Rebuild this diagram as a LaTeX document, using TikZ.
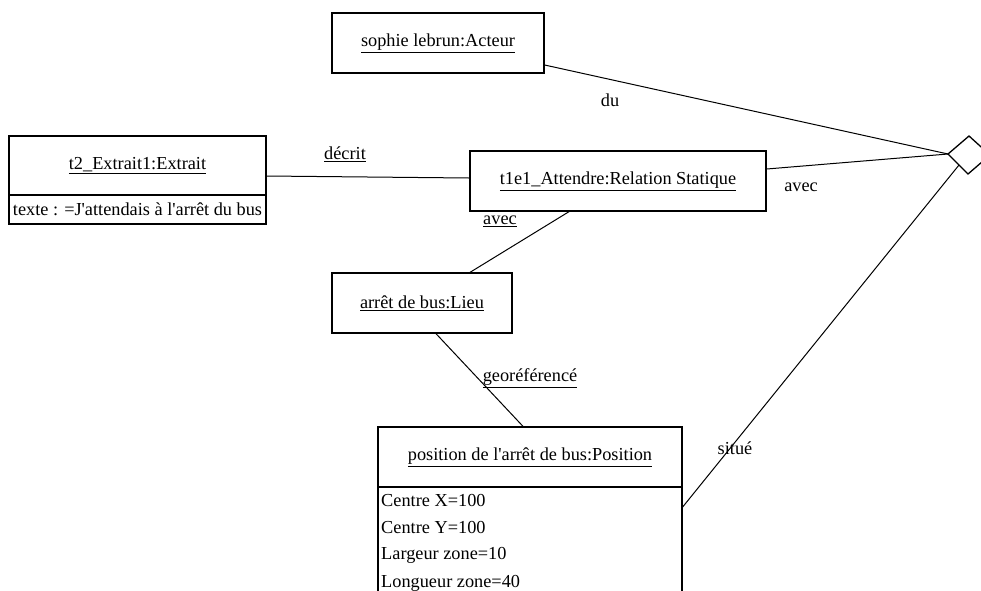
\documentclass[tikz,border=0pt]{standalone}
\usepackage{fontspec}
\setmainfont{Liberation Serif}
\usetikzlibrary{calc}
\begin{document}
\begin{tikzpicture}[x=1pt,y=-1pt,
  box/.style={draw,line width=1.3pt,rectangle,inner sep=0pt,font=\fontsize{18.3}{21}\selectfont},
  conn/.style={line width=1pt},
  lbl/.style={font=\fontsize{18.3}{21}\selectfont,inner sep=0pt},
  attr/.style={font=\fontsize{18.3}{21}\selectfont,inner sep=0pt,anchor=west}]
\useasboundingbox (0,0) rectangle (981,590);
\clip (0,0) rectangle (981,590);
\fill[white] (0,0) rectangle (981,590);
% boxes
\node[box,minimum width=212pt,minimum height=60pt] (sophie) at (438,43) {\underline{sophie lebrun:Acteur}};
\node[box,minimum width=257pt,minimum height=59pt] (t2h) at (137.5,165.5) {\underline{t2\_Extrait1:Extrait}};
\node[box,minimum width=257pt,minimum height=29pt] (t2a) at (137.5,209.5) {texte : =J\textquotesingle attendais à l\textquotesingle arrêt du bus};
\node[box,minimum width=296pt,minimum height=60pt] (t1e1) at (618,181) {\underline{t1e1\_Attendre:Relation Statique}};
\node[box,minimum width=180pt,minimum height=60pt] (arret) at (422,303) {\underline{arrêt de bus:Lieu}};
\node[box,minimum width=304pt,minimum height=60pt] (posh) at (530,457) {\underline{position de l\textquotesingle arrêt de bus:Position}};
\node[box,minimum width=304pt,minimum height=123pt] (posa) at (530,548.5) {};
\node[attr] (a1) at (381,500) {Centre X=100};
\node[attr] (a2) at (381,527.5) {Centre Y=100};
\node[attr] (a3) at (381,555) {Largeur zone=10};
\node[attr] (a4) at (381,583) {Longueur zone=40};
% diamond
\coordinate (dl) at (948,154);
\coordinate (dt) at (969,136);
\coordinate (dr) at (990,155);
\coordinate (db) at (968,174);
\draw[line width=1.3pt,fill=white] (dl) -- (dt) -- (dr) -- (db) -- cycle;
\coordinate (ds) at ($(dl)!0.55!(db)$);
% connectors
\draw[conn] ([yshift=-22pt]sophie.east) -- (dl);
\draw[conn] ([yshift=12pt]t1e1.east) -- (dl);
\draw[conn] ([yshift=-10.5pt]t2h.east) -- ([yshift=3pt]t1e1.west);
\draw[conn] ([xshift=-49pt]t1e1.south) -- ([xshift=48pt]arret.north);
\draw[conn] ([xshift=14pt]arret.south) -- ([xshift=-7pt]posh.north);
\draw[conn] ([yshift=41.5pt]posa.east) -- (ds);
% labels
\node[lbl] (ldu) at (610,100) {du};
\node[lbl] (ldecrit) at (345,154) {\underline{décrit}};
\node[lbl] (lavec1) at (500,221) {\underline{avec}};
\node[lbl] (lavec2) at (801,187) {avec};
\node[lbl] (lgeo) at (530,378) {\underline{georéférencé}};
\node[lbl] (lsitue) at (735,448) {situé};
\end{tikzpicture}
\end{document}
